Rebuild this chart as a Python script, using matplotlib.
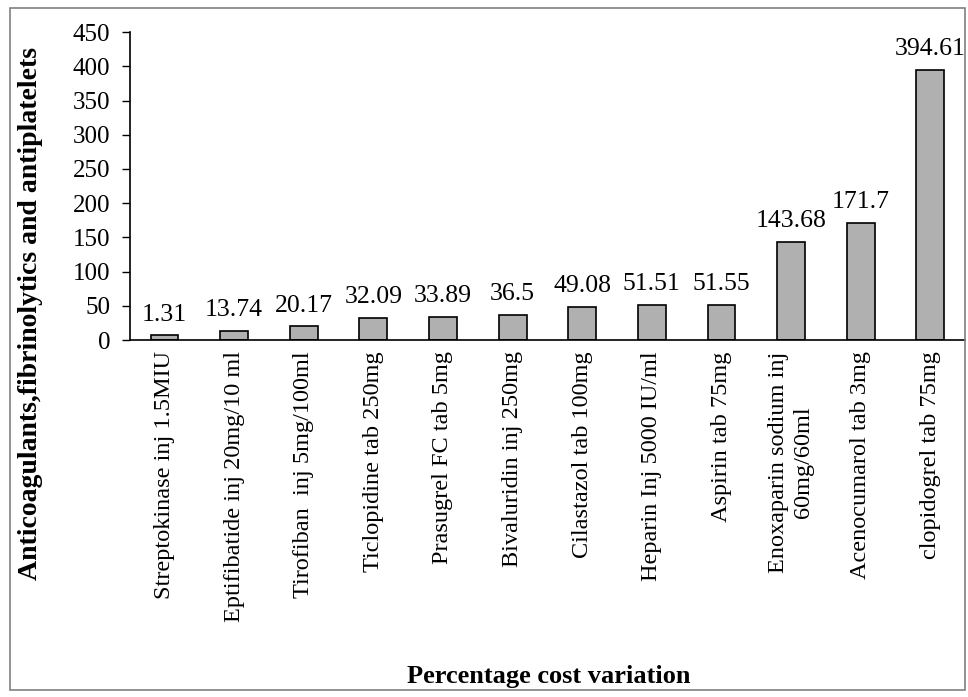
import matplotlib.pyplot as plt
from matplotlib.patches import Rectangle

plt.rcParams['font.family'] = ['Liberation Serif', 'DejaVu Serif']

farmaci = ['Streptokinase inj 1.5MIU', 'Eptifibatide inj 20mg/10 ml', 'Tirofiban  inj 5mg/100ml',
           'Ticlopidine tab 250mg', 'Prasugrel FC tab 5mg', 'Bivaluridin inj 250mg',
           'Cilastazol tab 100mg', 'Heparin Inj 5000 IU/ml', 'Aspirin tab 75mg',
           'Enoxaparin sodium inj\n60mg/60ml', 'Acenocumarol tab 3mg', 'clopidogrel tab 75mg']
# altezza delle barre come disegnate nel grafico
altezze = [7.0, 13.74, 20.17, 32.09, 33.89, 36.5, 49.08, 51.51, 51.55, 143.68, 171.7, 394.61]
# etichette dei valori
etichette = ['1.31', '13.74', '20.17', '32.09', '33.89', '36.5', '49.08', '51.51', '51.55',
             '143.68', '171.7', '394.61']

fig = plt.figure(figsize=(9.68, 6.97), dpi=100)
ax = fig.add_axes([0.134, 0.512, 0.863, 0.442])

x = list(range(len(farmaci)))
bars = ax.bar(x, altezze, width=0.4, color='#b0b0b0', edgecolor='black', linewidth=1.2)
for b, t in zip(bars, etichette):
    ax.annotate(t, (b.get_x() + b.get_width() / 2, b.get_height()), xytext=(0, 7),
                textcoords='offset points', ha='center', va='bottom', fontsize=18.5)

ax.set_xlim(-0.5, len(farmaci) - 0.5)
ax.set_ylim(0, 450)
ax.set_yticks(range(0, 451, 50))
ax.tick_params(axis='y', labelsize=18, length=6, width=1, pad=8)
ax.tick_params(axis='x', length=0, pad=8)
ax.set_xticks(x)
ax.set_xticklabels(farmaci, rotation=90, fontsize=17.5, ha='center', va='top', multialignment='center')
ax.spines['top'].set_visible(False)
ax.spines['right'].set_visible(False)
ax.spines['left'].set_linewidth(1.2)
ax.spines['bottom'].set_linewidth(1.2)

fig.text(0.032, 1 - 313 / 697, 'Anticoagulants,fibrinolytics and antiplatelets', rotation=90,
         ha='center', va='center', fontsize=20, fontweight='bold')
fig.text(0.567, 1 - 676 / 697, 'Percentage cost variation', ha='center', va='center',
         fontsize=19, fontweight='bold')

fig.patches.append(Rectangle((10 / 968, 1 - 690 / 697), 955 / 968, 682 / 697, transform=fig.transFigure,
                             fill=False, edgecolor='#808080', linewidth=1.2))

plt.savefig('out.png', dpi=100)
plt.close()
